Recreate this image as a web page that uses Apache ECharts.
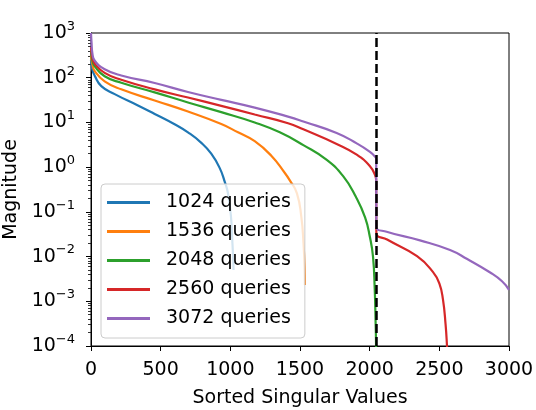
<!DOCTYPE html>
<html>
<head>
<meta charset="utf-8">
<script src="https://cdn.jsdelivr.net/npm/echarts@6/dist/echarts.min.js"></script>
<style>
    html, body { margin: 0; padding: 0; background: #fff; }
    #chart { width: 536px; height: 410px; }
</style>
</head>
<body>
<div id="chart"></div>
<script>
// values, [index, magnitude]
var q1024 = [[0, 250], [10, 150], [27, 110], [74, 65], [170, 43], [337, 24], [457, 15.5], [600, 9.1],
    [696, 6], [792, 3.5], [863, 2], [924, 0.95], [960, 0.47], [983, 0.26], [1005, 0.075],
    [1015, 0.02], [1021, 0.008], [1023, 0.005]];
var q1536 = [[0, 320], [10, 200], [27, 140], [98, 83], [217, 55], [457, 31], [696, 17.5], [935, 9.2],
    [1055, 6], [1175, 3.8], [1294, 1.8], [1390, 0.75], [1428, 0.5], [1478, 0.26], [1510, 0.075],
    [1525, 0.02], [1533, 0.006], [1535, 0.0023]];
var q2048 = [[0, 400], [10, 240], [27, 180], [98, 108], [217, 77], [457, 47], [696, 28], [935, 17],
    [1175, 10], [1355, 6], [1524, 3.1], [1692, 1.45], [1811, 0.62], [1900, 0.22], [1967, 0.075],
    [2002, 0.027], [2024, 0.01], [2036, 0.002], [2043, 0.0003], [2046, 0.0001], [2047, 0.00004]];
var q2560 = [[0, 480], [10, 280], [27, 205], [98, 128], [217, 90], [457, 55], [696, 36], [935, 23.5],
    [1175, 15], [1414, 9.6], [1524, 7], [1763, 3.3], [1907, 1.9], [2002, 1.05], [2038, 0.67],
    [2047, 0.5], [2048, 0.034], [2125, 0.024], [2340, 0.0102], [2455, 0.0045], [2500, 0.0025],
    [2526, 0.0011], [2545, 0.0003], [2555, 0.0001], [2559, 0.00005]];
var q3072 = [[0, 1000], [4, 600], [10, 350], [27, 240], [98, 155], [217, 112], [457, 76], [696, 48],
    [935, 32], [1175, 21.5], [1414, 13.5], [1524, 10.5], [1763, 5.8], [1907, 3.4], [2002, 2.2],
    [2040, 1.7], [2047, 1.5], [2048, 0.047], [2122, 0.036], [2361, 0.023], [2577, 0.014],
    [2700, 0.0088], [2865, 0.0044], [2950, 0.0028], [3000, 0.0018]];

var seriesNames = ['1024 queries', '1536 queries', '2048 queries', '2560 queries', '3072 queries'];
var seriesData = [q1024, q1536, q2048, q2560, q3072];
var colors = ['#1f77b4', '#ff7f0e', '#2ca02c', '#d62728', '#9467bd'];
var dividerX = 2048;

// minor ticks like matplotlib, 2..9 x 10^n
var minorTicks = [];
for (var e = -4; e < 3; e++) {
    for (var m = 2; m < 10; m++) minorTicks.push(m * Math.pow(10, e));
}

var font = 'DejaVu Sans';

function renderChart(dom) {
    var myChart = echarts.init(dom);

    var series = seriesData.map(function (d, i) {
        return {
            name: seriesNames[i],
            type: 'line',
            data: d,
            showSymbol: false,
            smooth: 0.5,
            clip: true,
            color: colors[i],
            lineStyle: { width: 2.2 },
            z: 2
        };
    });
    series.push({
        name: 'divider',
        type: 'line',
        data: [],
        z: 3,
        markLine: {
            silent: true,
            symbol: 'none',
            label: { show: false },
            lineStyle: { color: '#000', type: [9, 4], width: 2.5 },
            data: [{ xAxis: dividerX }]
        }
    });

    var option = {
        animation: false,
        backgroundColor: '#fff',
        grid: {
            left: 91, right: 27, top: 33, bottom: 64,
            containLabel: false,
            outerBoundsMode: 'none',
            show: true, borderColor: '#000', borderWidth: 1
        },
        legend: {
            data: seriesNames,
            orient: 'vertical',
            left: 101,
            top: 184,
            icon: 'rect',
            itemWidth: 43,
            itemHeight: 3,
            itemGap: 10,
            padding: [9, 14, 10, 6],
            backgroundColor: 'rgba(255,255,255,0.8)',
            borderColor: '#cccccc',
            borderWidth: 1,
            borderRadius: 4,
            textStyle: { fontFamily: font, fontSize: 19, color: '#000', padding: [0, 0, 0, 11] }
        },
        xAxis: {
            type: 'value',
            min: 0,
            max: 3000,
            interval: 500,
            name: 'Sorted Singular Values',
            nameLocation: 'middle',
            nameGap: 43,
            nameTextStyle: { fontFamily: font, fontSize: 19, color: '#000' },
            axisLine: { show: true, onZero: false, lineStyle: { color: '#000', width: 1 } },
            axisTick: { show: true, inside: false, length: 5, lineStyle: { color: '#000' } },
            axisLabel: {
                fontFamily: font, fontSize: 19, color: '#000', margin: 15,
                formatter: function (v) { return String(v); }
            },
            splitLine: { show: false }
        },
        yAxis: [{
            type: 'log',
            logBase: 10,
            min: 1e-4,
            max: 1e3,
            name: 'Magnitude',
            nameLocation: 'middle',
            nameGap: 66,
            nameTextStyle: { fontFamily: font, fontSize: 19, color: '#000' },
            axisLine: { show: true, onZero: false, lineStyle: { color: '#000', width: 1 } },
            axisTick: { show: true, inside: false, length: 5, lineStyle: { color: '#000' } },
            axisLabel: {
                margin: 16,
                formatter: function (v) {
                    var p = Math.round(Math.log10(v));
                    return '{b|10}{s|' + (p < 0 ? '\u2212' + (-p) : p) + '}';
                },
                rich: {
                    b: { fontFamily: font, fontSize: 19, color: '#000', lineHeight: 26 },
                    s: { fontFamily: font, fontSize: 13, color: '#000', verticalAlign: 'top', lineHeight: 14 }
                }
            },
            splitLine: { show: false }
        }, {
            type: 'log',
            logBase: 10,
            min: 1e-4,
            max: 1e3,
            position: 'left',
            axisLine: { show: false },
            axisLabel: { show: false },
            axisTick: {
                show: true, inside: false, length: 3,
                customValues: minorTicks,
                lineStyle: { color: '#000', width: 0.8 }
            },
            splitLine: { show: false }
        }],
        series: series
    };

    option && myChart.setOption(option);
}

renderChart(document.getElementById('chart'));
</script>
</body>
</html>
